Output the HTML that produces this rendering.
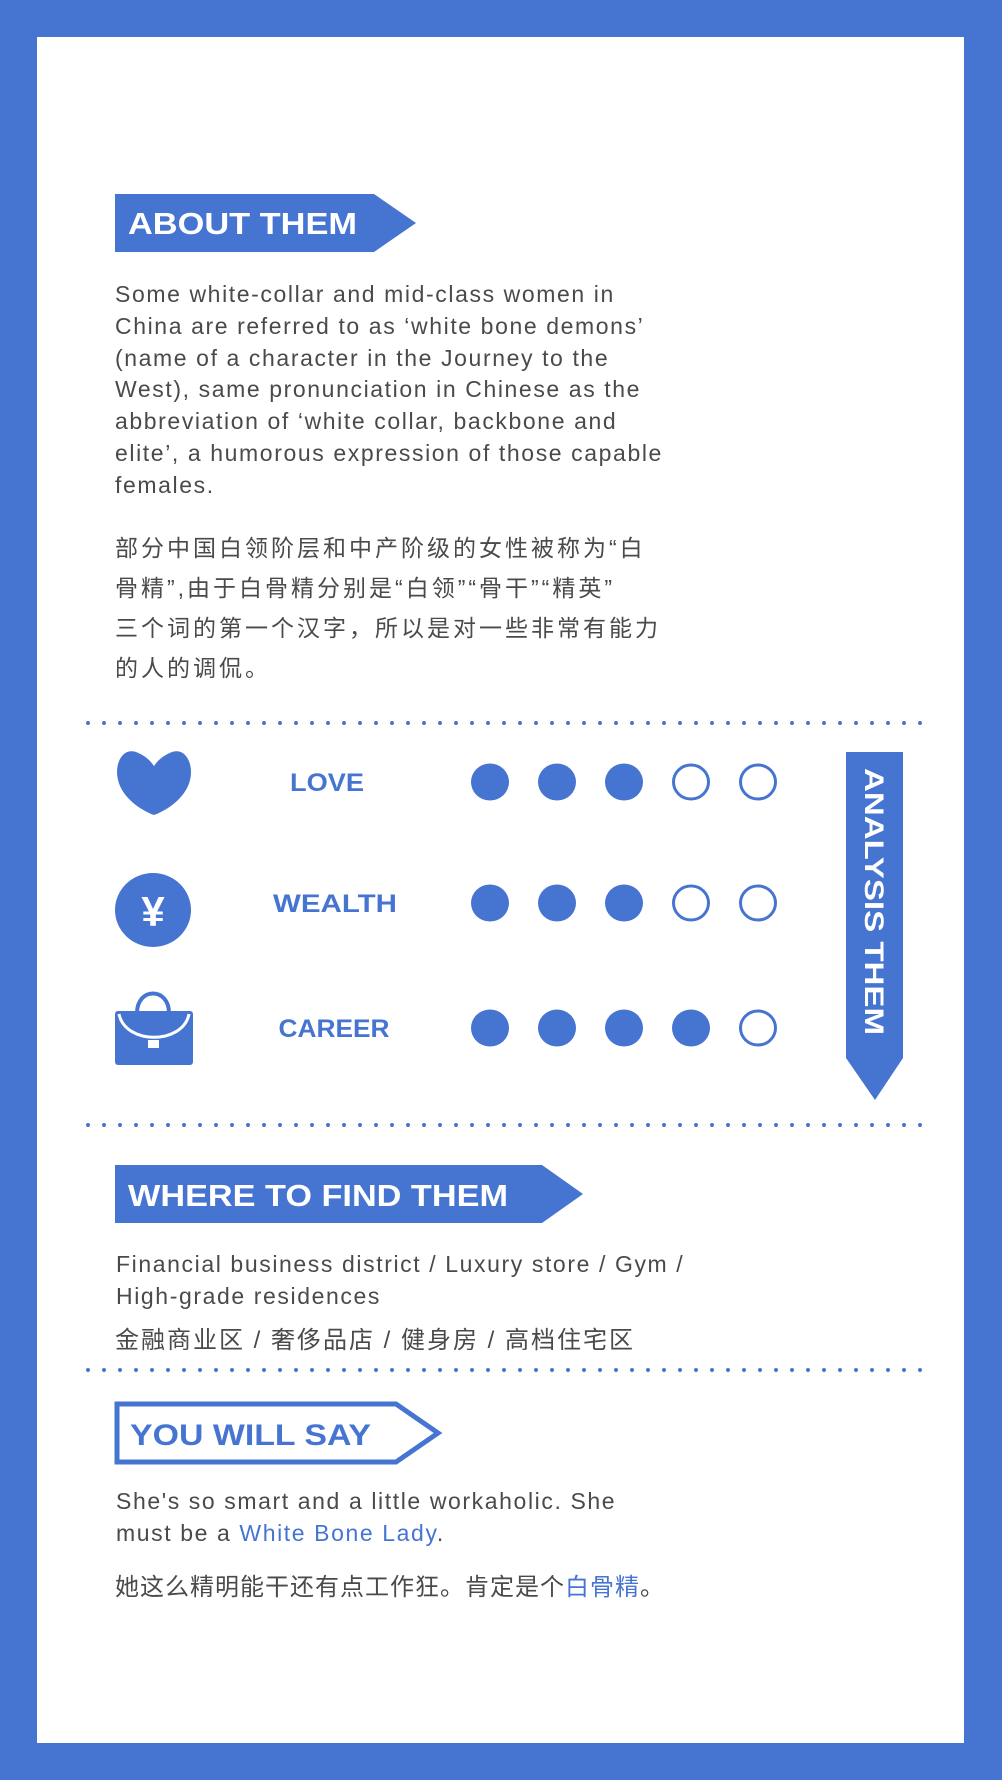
<!DOCTYPE html>
<html><head><meta charset="utf-8"><style>
*{margin:0;padding:0;box-sizing:border-box}
body{width:1002px;height:1780px;background:#4674d1;position:relative;overflow:hidden;font-family:"Liberation Sans","Noto Sans CJK SC",sans-serif}
#panel{position:absolute;left:37px;top:37px;width:927px;height:1706px;background:#fff}
.abs{position:absolute}
.en{color:#4a4a4a;font-size:23px;line-height:31.8px;letter-spacing:1.6px;white-space:nowrap}
.zh{color:#4a4a4a;font-size:23px;line-height:40px;letter-spacing:3px;white-space:nowrap}
.dots{position:absolute;left:80px;width:846px;height:4px;background-image:radial-gradient(circle,#4674d1 1.8px,transparent 2.2px);background-size:16px 4px}
.hl{color:#4674d1}
</style></head><body>
<div id="panel"></div>

<svg class="abs" style="left:0;top:0" width="1002" height="1780">
  <polygon points="115,194 374,194 416,223 374,252 115,252" fill="#4674d1"/>
  <text x="128" y="234" fill="#fff" font-size="31" font-weight="bold" font-family="Liberation Sans" textLength="229" lengthAdjust="spacingAndGlyphs">ABOUT THEM</text>
  <polygon points="115,1165 542,1165 583,1194 542,1223 115,1223" fill="#4674d1"/>
  <text x="128" y="1206" fill="#fff" font-size="31" font-weight="bold" font-family="Liberation Sans" textLength="380" lengthAdjust="spacingAndGlyphs">WHERE TO FIND THEM</text>
  <polygon points="117,1404 396,1404 438,1433 396,1462 117,1462" fill="none" stroke="#4674d1" stroke-width="5"/>
  <text x="130" y="1445" fill="#4674d1" font-size="30" font-weight="bold" font-family="Liberation Sans" textLength="241" lengthAdjust="spacingAndGlyphs">YOU WILL SAY</text>
  <polygon points="846,752 903,752 903,1058 875,1100 846,1058" fill="#4674d1"/>
  <text transform="translate(865,768) rotate(90)" fill="#fff" font-size="27" font-weight="bold" font-family="Liberation Sans" textLength="267" lengthAdjust="spacingAndGlyphs">ANALYSIS THEM</text>
  <path d="M136,752 C124,748 117,760 117,772 C117,795 140,810 154,815 C168,810 191,795 191,772 C191,760 184,748 172,752 C164,755 158,760 154,766 C150,760 144,755 136,752 Z" fill="#4674d1"/>
  <ellipse cx="153" cy="910" rx="38" ry="37" fill="#4674d1"/>
  <text x="153" y="926" fill="#fff" font-size="42" font-weight="bold" text-anchor="middle" font-family="Liberation Sans">¥</text>
  <g>
    <path d="M137,1013 C137,987 169,987 169,1013" fill="none" stroke="#4674d1" stroke-width="4"/>
    <rect x="115" y="1011" width="78" height="54" rx="3" fill="#4674d1"/>
    <path d="M119,1014 C125,1045 183,1045 189,1014" fill="none" stroke="#fff" stroke-width="3"/>
    <rect x="148" y="1040" width="11" height="8" fill="#fff"/>
  </g>
  <g id="rating"></g>
</svg>

<div class="dots" style="top:721px"></div>
<div class="dots" style="top:1123px"></div>
<div class="dots" style="top:1368px"></div>

<div class="abs en" style="left:115px;top:279px">Some white-collar and mid-class women in<br>China are referred to as ‘white bone demons’<br>(name of a character in the Journey to the<br>West), same pronunciation in Chinese as the<br>abbreviation of ‘white collar, backbone and<br>elite’, a humorous expression of those capable<br>females.</div>
<div class="abs zh" style="left:115px;top:528px">部分中国白领阶层和中产阶级的女性被称为“白<br>骨精”,由于白骨精分别是“白领”“骨干”“精英”<br>三个词的第一个汉字，所以是对一些非常有能力<br>的人的调侃。</div>

<div class="abs en" style="left:116px;top:1249px">Financial business district / Luxury store / Gym /<br>High-grade residences</div>
<div class="abs zh" style="left:115px;top:1321px;letter-spacing:2px;font-size:24px">金融商业区 / 奢侈品店 / 健身房 / 高档住宅区</div>

<div class="abs en" style="left:116px;top:1486px">She's so smart and a little workaholic. She<br>must be a <span class="hl">White Bone Lady</span>.</div>
<div class="abs zh" style="left:115px;top:1568px;letter-spacing:1px;font-size:24px">她这么精明能干还有点工作狂。肯定是个<span class="hl">白骨精</span>。</div>

<script>
const categories = ["LOVE", "WEALTH", "CAREER"];
const ratings = [3, 3, 4];
const maxRating = 5;
const rowY = [782, 903, 1028];
const ns = "http://www.w3.org/2000/svg";
const g = document.getElementById("rating");
const xScale = i => 490 + i * 67;
const labelX = [327, 335, 334];
const labelW = [74, 124, 111];
categories.forEach((c, r) => {
  const t = document.createElementNS(ns, "text");
  t.setAttribute("x", labelX[r] - labelW[r] / 2);
  t.setAttribute("y", rowY[r] + 9);
  t.setAttribute("fill", "#4674d1");
  t.setAttribute("font-size", "25");
  t.setAttribute("font-weight", "bold");
  t.setAttribute("font-family", "Liberation Sans");
  t.setAttribute("textLength", labelW[r]);
  t.setAttribute("lengthAdjust", "spacingAndGlyphs");
  t.textContent = c;
  
  
  g.appendChild(t);
  for (let i = 0; i < maxRating; i++) {
    const e = document.createElementNS(ns, "ellipse");
    e.setAttribute("cx", xScale(i));
    e.setAttribute("cy", rowY[r]);
    const filled = i < ratings[r];
    e.setAttribute("rx", filled ? 19 : 17.5);
    e.setAttribute("ry", filled ? 18.5 : 17);
    e.setAttribute("fill", filled ? "#4674d1" : "none");
    e.setAttribute("stroke", "#4674d1");
    e.setAttribute("stroke-width", filled ? 0 : 3);
    
    
    g.appendChild(e);
  }
});
</script>
</body></html>
